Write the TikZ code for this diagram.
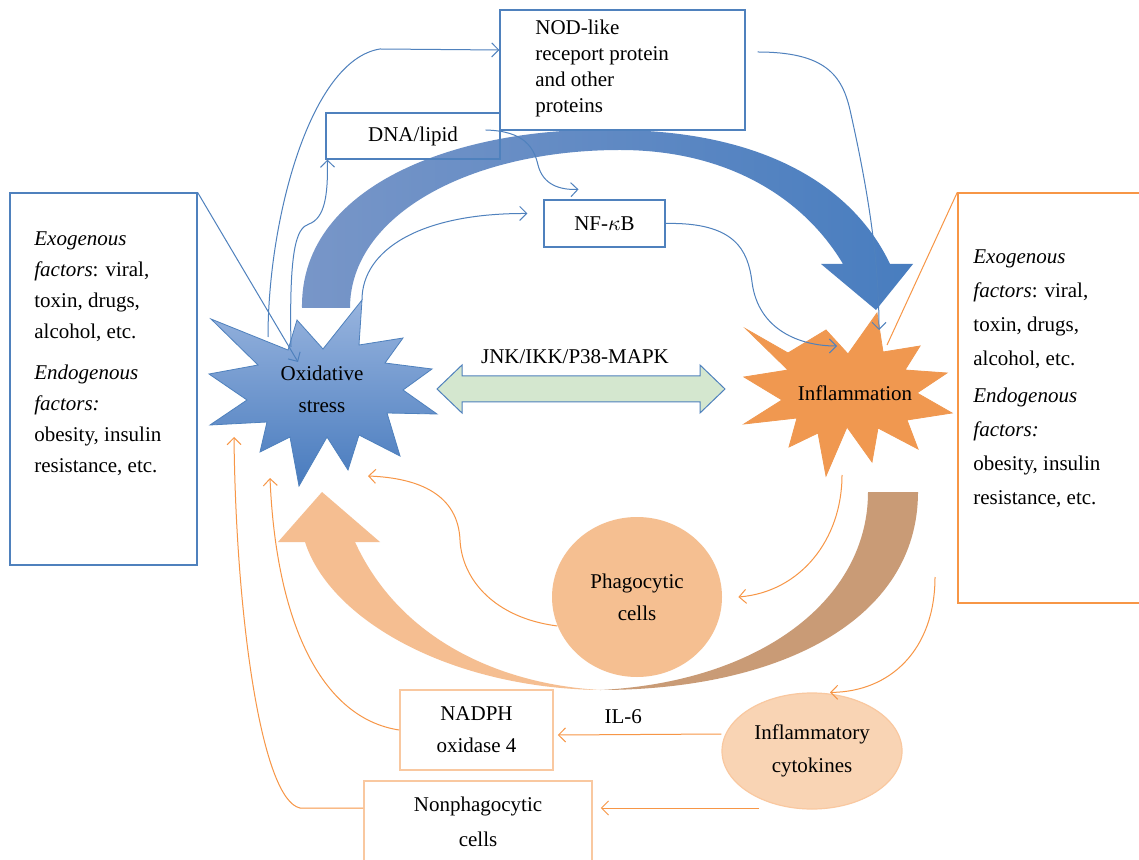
\documentclass[tikz,border=0pt]{standalone}
\usepackage{fontspec, tkz-euclide}
\setmainfont{Liberation Serif}
\usetikzlibrary{arrows.meta, shapes.geometric}
\definecolor{bline}{RGB}{79,129,189}
\definecolor{oline}{RGB}{247,150,70}
\definecolor{oedge}{RGB}{249,200,160}
\definecolor{phagofill}{RGB}{245,191,145}
\definecolor{cytofill}{RGB}{249,212,180}
\definecolor{arcbrown}{RGB}{201,155,118}
\definecolor{arclight}{RGB}{245,190,145}
\definecolor{arcleft}{RGB}{120,150,200}
\definecolor{arcright}{RGB}{72,125,191}
\definecolor{oxtop}{RGB}{152,180,222}
\definecolor{oxbot}{RGB}{72,123,190}
\definecolor{inflfill}{RGB}{240,152,80}
\definecolor{jnkfill}{RGB}{212,231,207}
\tikzset{>={Straight Barb[length=3.5pt,width=7pt]}}
\tikzset{
  txt/.style={font=\fontsize{10.5}{15.5}\selectfont, inner sep=0pt},
  bbox/.style={draw=bline, line width=0.6pt, inner sep=0pt},
  obox/.style={draw=oedge, line width=0.8pt, inner sep=0pt},
  bl/.style={draw=bline, line width=0.5pt},
  ol/.style={draw=oline, line width=0.5pt}
}

\begin{document}
\begin{tikzpicture}[x=0.5pt, y=-0.5pt]
    \useasboundingbox[fill=white] (0,0) rectangle (1139,860);
    \tkzDefPoints{268/337/oxA, 291/347/oxB, 362/300/oxC, 298/362/oxD, 368/476/oxE, 270/478/oxF, 234/437/oxG}
    \tkzDefPoints{837/346/inA, 879/330/inB, 842/475/inC, 887/345/inD, 935/577/ckA, 759/808/ckB}
    \tkzDefPoints{437/389/jL, 725/389/jR}

    \shade[left color=arcleft, right color=arcright] (302,308) .. controls (300,180) and (470,125) .. (620,130) .. controls (770,132) and (855,190) .. (890,264) -- (913,264) -- (876,310) -- (821,264) -- (843,264) .. controls (805,200) and (730,150) .. (620,150) .. controls (470,150) and (350,215) .. (350,308) -- cycle;
    \fill[arcbrown] (918,492) .. controls (918,620) and (780,690) .. (600,690) .. controls (760,682) and (868,600) .. (868,492) -- cycle;
    \fill[arclight] (600,690) .. controls (450,688) and (330,620) .. (305,542) -- (278,542) -- (322,492) -- (380,542) -- (355,542) .. controls (400,640) and (500,684) .. (600,690) -- cycle;

    \shadedraw[top color=oxtop, bottom color=oxbot, draw=bline, line width=0.4pt] (211,319) -- (288,350) -- (297,320) -- (323,349) -- (362,300) -- (359,345) -- (403,338) -- (385,363) -- (432,369) -- (403,390) -- (437,414) -- (387,413) -- (400,456) -- (359,435) -- (348,470) -- (327,437) -- (299,486) -- (290,437) -- (260,452) -- (267,422) -- (210,425) -- (247,400) -- (209,374) -- (258,365) -- cycle;
    \filldraw[fill=inflfill, draw=inflfill] (746,329) -- (788,353) -- (826,330) -- (848,354) -- (877,313) -- (883,352) -- (920,346) -- (905,370) -- (947,373) -- (917,393) -- (952,413) -- (907,420) -- (918,449) -- (878,428) -- (872,462) -- (847,427) -- (826,476) -- (818,433) -- (789,447) -- (797,418) -- (744,424) -- (782,400) -- (744,377) -- (788,370) -- cycle;
    \filldraw[fill=jnkfill, draw=bline, line width=0.5pt] (jL) -- ++(25,-24) -- ++(0,11) -- ++(238,0) -- ++(0,-11) -- (jR) -- ++(-25,24) -- ++(0,-11) -- ++(-238,0) -- ++(0,11) -- cycle;

    \node[txt, align=center, font=\fontsize{10.5}{16}\selectfont] (ox) at (322,389) {Oxidative\\stress};
    \node[txt] (infl) at (855,393) {Inflammation};
    \node[txt] (jnk) at (575,357) {JNK/IKK/P38-MAPK};

    \node[bbox, minimum width=93.5pt, minimum height=186pt] (exo) at (103.5,379) {};
    \node[txt, anchor=north west, align=left] (exot) at (34,231) {\textit{Exogenous}\\\textit{factors}: viral,\\toxin, drugs,\\alcohol, etc.\\[5pt]\textit{Endogenous}\\\textit{factors:}\\obesity, insulin\\resistance, etc.};
    \node[draw=oline, line width=0.7pt, minimum width=100pt, minimum height=205pt] (endo) at (1058,398) {};
    \node[txt, anchor=north west, align=left, font=\fontsize{10.5}{17}\selectfont] (endot) at (973,249) {\textit{Exogenous}\\\textit{factors}: viral,\\toxin, drugs,\\alcohol, etc.\\[1.5pt]\textit{Endogenous}\\\textit{factors:}\\obesity, insulin\\resistance, etc.};
    \node[bbox, fill=white, minimum width=122.5pt, minimum height=60pt] (nod) at (622.5,70) {};
    \node[txt, anchor=north west, align=left, font=\fontsize{10.5}{13}\selectfont] (nodt) at (535,20) {NOD-like\\receport protein\\and other\\proteins};
    \node[bbox, txt, minimum width=87pt, minimum height=23pt] (dna) at (413,136) {DNA/lipid};
    \node[bbox, txt, minimum width=60.5pt, minimum height=23.5pt] (nfkb) at (604.5,223.5) {NF-$\kappa$B};
    \node[ellipse, fill=phagofill, txt, align=center, minimum width=85pt, minimum height=80pt, font=\fontsize{10.5}{16}\selectfont] (phago) at (637,597) {Phagocytic\\cells};
    \node[ellipse, fill=cytofill, draw=oedge, line width=0.6pt, txt, align=center, minimum width=90pt, minimum height=58pt, font=\fontsize{10.5}{16.5}\selectfont] (cyto) at (812,751) {Inflammatory\\cytokines};
    \node[obox, txt, align=center, minimum width=76.5pt, minimum height=40pt, font=\fontsize{10.5}{16}\selectfont] (nadph) at (476.5,730) {NADPH\\oxidase 4};
    \node[obox, txt, align=center, minimum width=114pt, minimum height=41pt, font=\fontsize{10.5}{17.5}\selectfont] (nonph) at (478,822) {Nonphagocytic\\cells};

    \draw[bl,->] (oxA) .. controls (268,220) and (310,60) .. (380,49) -- ([yshift=10pt]nod.west);
    \draw[bl,->] (oxB) .. controls (289,250) and (296,228) .. (309,224) .. controls (325,218) and (328,195) .. ([xshift=1pt]dna.south west);
    \draw[bl,->] (oxC) .. controls (362,250) and (420,213) .. ([xshift=-8pt,yshift=5pt]nfkb.west);
    \draw[bl,->] ([xshift=-7.5pt,yshift=3pt]dna.east) .. controls (525,131) and (534,148) .. (538,165) .. controls (543,185) and (560,190) .. ([xshift=-13pt,yshift=5pt]nfkb.north);
    \draw[bl,->] (nfkb.east) .. controls (735,222) and (748,250) .. (752,282) .. controls (758,330) and (800,346) .. (inA);
    \draw[bl,->] ([xshift=6pt,yshift=9pt]nod.east) .. controls (825,52) and (842,75) .. (850,110) .. controls (868,190) and (879,260) .. (inB);
    \draw[bl,->] (exo.north east) -- (oxD);
    \draw[ol] (endo.north west) -- (inD);
    \draw[ol,->] (inC) .. controls (842,540) and (800,592) .. ([xshift=8pt]phago.east);
    \draw[ol,->] (phago.200) .. controls (495,618) and (462,580) .. (460,540) .. controls (458,495) and (420,478) .. (oxE);
    \draw[ol,->] (ckA) .. controls (935,650) and (890,692) .. ([xshift=9pt]cyto.north);
    \draw[ol,->] ([yshift=8.5pt]cyto.west) -- node[txt, pos=0.6, above=5pt] {IL-6} ([xshift=2pt,yshift=-2.5pt]nadph.east);
    \draw[ol,->] (ckB) -- ([xshift=4pt,yshift=7pt]nonph.east);
    \draw[ol,->] (nadph.west) .. controls (320,718) and (276,620) .. (oxF);
    \draw[ol,->] ([yshift=7pt]nonph.west) -- (300,808) .. controls (262,800) and (236,620) .. (oxG);
\end{tikzpicture}
\end{document}
